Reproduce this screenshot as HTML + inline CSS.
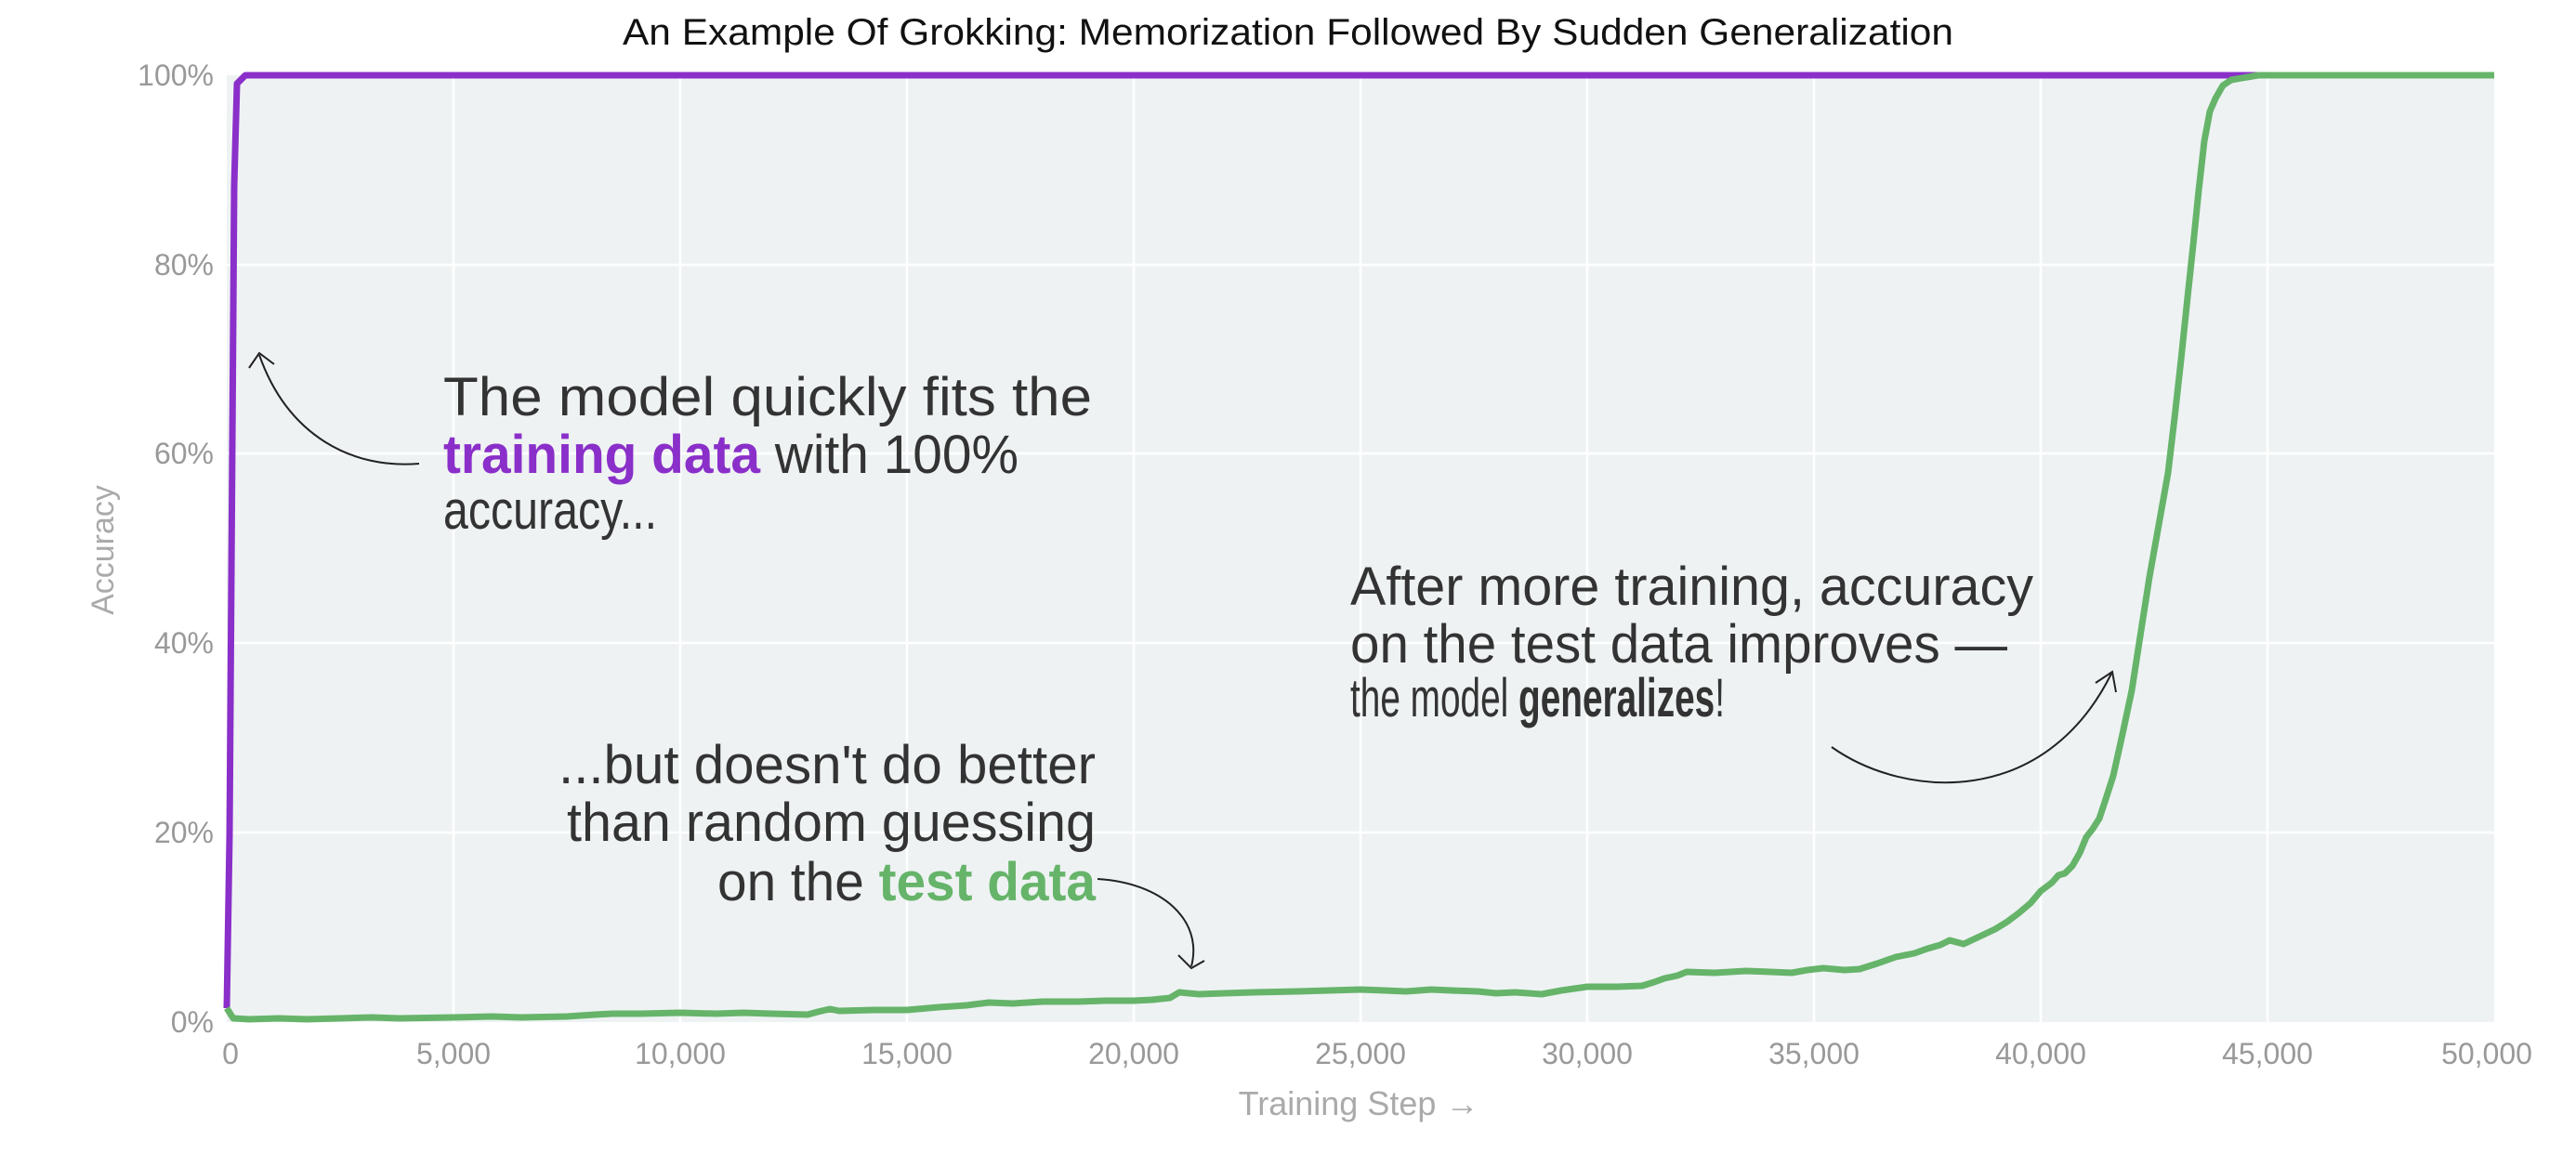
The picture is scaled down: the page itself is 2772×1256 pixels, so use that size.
<!DOCTYPE html>
<html><head><meta charset="utf-8"><style>
html,body{margin:0;padding:0;background:#fff;}
svg{display:block;}
text{font-family:"Liberation Sans",sans-serif;}
</style></head><body>
<svg width="2772" height="1256" viewBox="0 0 2772 1256" xmlns="http://www.w3.org/2000/svg">
<rect x="244" y="81" width="2440" height="1019" fill="#eef2f3"/>
<g stroke="#fff" stroke-width="2.5">
<line x1="244" y1="285" x2="2684" y2="285"/>
<line x1="244" y1="488" x2="2684" y2="488"/>
<line x1="244" y1="692" x2="2684" y2="692"/>
<line x1="244" y1="896" x2="2684" y2="896"/>
<line x1="488" y1="81" x2="488" y2="1100"/>
<line x1="732" y1="81" x2="732" y2="1100"/>
<line x1="976" y1="81" x2="976" y2="1100"/>
<line x1="1220" y1="81" x2="1220" y2="1100"/>
<line x1="1464" y1="81" x2="1464" y2="1100"/>
<line x1="1708" y1="81" x2="1708" y2="1100"/>
<line x1="1952" y1="81" x2="1952" y2="1100"/>
<line x1="2196" y1="81" x2="2196" y2="1100"/>
<line x1="2440" y1="81" x2="2440" y2="1100"/>
</g>
<text x="1386" y="48" font-size="40" fill="#111" text-anchor="middle" textLength="1432" lengthAdjust="spacingAndGlyphs">An Example Of Grokking: Memorization Followed By Sudden Generalization</text>
<g font-size="32" fill="#999" text-anchor="end">
<text x="230" y="92">100%</text>
<text x="230" y="296">80%</text>
<text x="230" y="499">60%</text>
<text x="230" y="703">40%</text>
<text x="230" y="907">20%</text>
<text x="230" y="1111">0%</text>
</g>
<g font-size="32" fill="#999" text-anchor="middle">
<text x="248" y="1145">0</text>
<text x="488" y="1145">5,000</text>
<text x="732" y="1145">10,000</text>
<text x="976" y="1145">15,000</text>
<text x="1220" y="1145">20,000</text>
<text x="1464" y="1145">25,000</text>
<text x="1708" y="1145">30,000</text>
<text x="1952" y="1145">35,000</text>
<text x="2196" y="1145">40,000</text>
<text x="2440" y="1145">45,000</text>
<text x="2676" y="1145">50,000</text>
</g>
<text x="1462" y="1200" font-size="36" fill="#aaa" text-anchor="middle">Training Step →</text>
<text transform="translate(122,592) rotate(-90)" font-size="34" fill="#aaa" text-anchor="middle">Accuracy</text>
<polyline fill="none" stroke="#8a2fc9" stroke-width="7" stroke-linejoin="round" points="244,1085 247,900 252,200 255,90 264,81 2430,81"/>
<polyline fill="none" stroke="#66b46a" stroke-width="7" stroke-linejoin="round" points="244,1085 251,1096 268,1097 300,1096 330,1097 366,1096 400,1095 430,1096 488,1095 530,1094 560,1095 610,1094 640,1092 659,1091 690,1091 732,1090 770,1091 800,1090 830,1091 869,1092 880,1089 893,1086 903,1088 940,1087 976,1087 1010,1084 1040,1082 1064,1079 1090,1080 1122,1078 1160,1078 1190,1077 1220,1077 1240,1076 1259,1074 1269,1068 1290,1070 1318,1069 1350,1068 1396,1067 1430,1066 1464,1065 1490,1066 1513,1067 1540,1065 1562,1066 1590,1067 1610,1069 1630,1068 1659,1070 1680,1066 1708,1062 1740,1062 1767,1061 1780,1057 1791,1053 1805,1050 1815,1046 1845,1047 1879,1045 1905,1046 1928,1047 1945,1044 1962,1042 1985,1044 2001,1043 2020,1037 2040,1030 2060,1026 2074,1021 2088,1017 2098,1012 2113,1016 2130,1008 2147,1000 2160,992 2172,983 2185,972 2196,959 2208,950 2215,942 2222,940 2230,932 2238,918 2245,901 2252,892 2259,881 2266,860 2274,835 2284,790 2294,743 2303,685 2313,621 2323,565 2333,509 2340,450 2347,387 2354,320 2360,264 2366,205 2372,152 2378,120 2384,106 2392,92 2401,86 2430,81 2684,81"/>
<g fill="none" stroke="#222" stroke-width="2">
<path d="M451,499 C380,505 310,470 279,382"/>
<path d="M268,396 L279,380 L295,392"/>
<path d="M1181,946 C1250,950 1295,990 1282,1040"/>
<path d="M1268,1028 L1282,1042 L1296,1034"/>
<path d="M1971,804 C2050,860 2200,870 2272,725"/>
<path d="M2255,735 L2273,723 L2277,745"/>
</g>
<g font-size="58" fill="#333">
<text x="477" y="447" textLength="698" lengthAdjust="spacingAndGlyphs">The model quickly fits the</text>
<text x="477" y="509" textLength="619" lengthAdjust="spacingAndGlyphs"><tspan fill="#8a2fc9" font-weight="bold">training data</tspan> with 100%</text>
<text x="477" y="569" textLength="230" lengthAdjust="spacingAndGlyphs">accuracy...</text>
<text x="601" y="843" textLength="578" lengthAdjust="spacingAndGlyphs">...but doesn't do better</text>
<text x="610" y="905" textLength="569" lengthAdjust="spacingAndGlyphs">than random guessing</text>
<text x="772" y="969" textLength="407" lengthAdjust="spacingAndGlyphs">on the <tspan fill="#66b46a" font-weight="bold">test data</tspan></text>
<text x="1453" y="651" textLength="735" lengthAdjust="spacingAndGlyphs">After more training, accuracy</text>
<text x="1453" y="713" textLength="707" lengthAdjust="spacingAndGlyphs">on the test data improves —</text>
<text x="1453" y="771" textLength="403" lengthAdjust="spacingAndGlyphs">the model <tspan font-weight="bold">generalizes</tspan>!</text>
</g>
</svg>
</body></html>
